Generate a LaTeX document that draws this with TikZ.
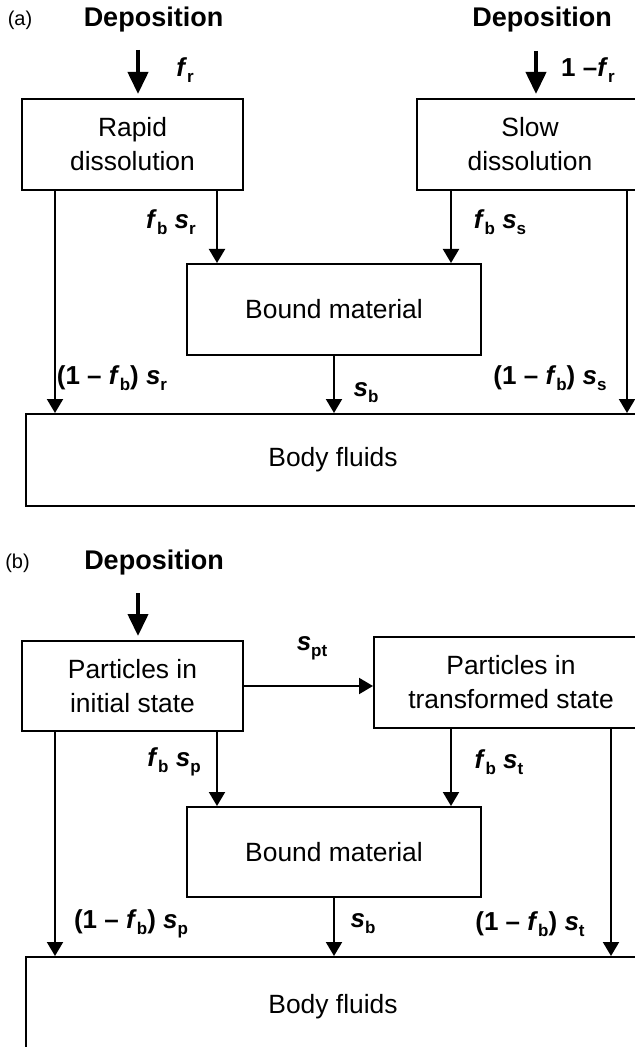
\documentclass[tikz,border=0pt]{standalone}
\usepackage{fontspec}
\setmainfont{Liberation Sans}
\usetikzlibrary{arrows.meta,positioning}
\newcommand{\subtxt}[1]{\raisebox{-0.45ex}{\fontsize{8.5}{8.5}\selectfont\bfseries\upshape #1}}
\newcommand{\fvar}[1]{\textit{f}\subtxt{#1}}
\newcommand{\svar}[1]{\textit{s}\subtxt{#1}}

\begin{document}
\begin{tikzpicture}[x=0.5pt,y=-0.5pt,
  box/.style={draw,line width=1pt,inner sep=0pt,align=center,font=\fontsize{13.2}{17}\selectfont},
  flow/.style={line width=1pt,-{Triangle[length=7pt,width=8pt]}},
  depo/.style={line width=2pt,-{Triangle[length=11pt,width=10pt]},shorten >=2pt},
  rate/.style={font=\fontsize{13}{15}\selectfont\bfseries,inner sep=0pt},
  head/.style={font=\fontsize{13.5}{16}\selectfont\bfseries,inner sep=0pt},
  tag/.style={font=\fontsize{10}{12}\selectfont,inner sep=0pt}]
\useasboundingbox (0,0) rectangle (635,1047);
% (a)
\node[tag] (tagA) at (20,20) {(a)};
\node[head] (depRA) at (153.5,20) {Deposition};
\node[head] (depSA) at (542,20) {Deposition};
\node[box,minimum width=110.5pt,minimum height=45.5pt] (rapid) at (132.5,144.5) {Rapid\\dissolution};
\node[box,minimum width=113pt,minimum height=45.5pt] (slow) at (530,144.5) {Slow\\dissolution};
\node[box,minimum width=147pt,minimum height=45.5pt] (boundA) at (334,309.5) {Bound material};
\node[box,minimum width=307pt,minimum height=46pt] (fluidA) at (333,460) {Body fluids};
\coordinate (inA) at (138,50);\coordinate (inS) at (536,51);
\coordinate (colA) at (55,0);\coordinate (colB) at (217,0);
\coordinate (colC) at (451,0);\coordinate (colD) at (627,0);
\draw[depo] (inA) -- (rapid.north -| inA);
\draw[depo] (inS) -- (slow.north -| inS);
\draw[flow] (rapid.south -| colA) -- (fluidA.north -| colA);
\draw[flow] (rapid.south -| colB) -- (boundA.north -| colB);
\draw[flow] (slow.south -| colC) -- (boundA.north -| colC);
\draw[flow] (slow.south -| colD) -- (fluidA.north -| colD);
\draw[flow] (boundA.south) -- (boundA.south |- fluidA.north);
\node[rate] (frA) at (185,70) {\fvar{r}};
\node[rate] (fsA) at (588,70) {1 –\fvar{r}};
\node[rate] (brA) at (171,222) {\fvar{b} \svar{r}};
\node[rate] (bsA) at (500,222) {\fvar{b} \svar{s}};
\node[rate] (urA) at (112,378) {(1 – \fvar{b}) \svar{r}};
\node[rate] (sbA) at (366,393) {\svar{b}};
\node[rate] (usA) at (550,378) {(1 – \fvar{b}) \svar{s}};
% (b)
\node[tag] (tagB) at (17.5,563) {(b)};
\node[head] (depB) at (154,563) {Deposition};
\node[box,minimum width=110.5pt,minimum height=45pt] (initial) at (132.5,686) {Particles in\\initial state};
\node[box,minimum width=137pt,minimum height=45.5pt] (transf) at (511,682.5) {Particles in\\transformed state};
\node[box,minimum width=147pt,minimum height=45pt] (boundB) at (334,852) {Bound material};
\node[box,minimum width=307pt,minimum height=50pt] (fluidB) at (333,1007) {Body fluids};
\coordinate (inB) at (138,593);
\coordinate (colE) at (611,0);
\draw[depo] (inB) -- (initial.north -| inB);
\draw[flow] (initial.east) -- (initial.east -| transf.west);
\draw[flow] (initial.south -| colA) -- (fluidB.north -| colA);
\draw[flow] (initial.south -| colB) -- (boundB.north -| colB);
\draw[flow] (transf.south -| colC) -- (boundB.north -| colC);
\draw[flow] (transf.south -| colE) -- (fluidB.north -| colE);
\draw[flow] (boundB.south) -- (boundB.south |- fluidB.north);
\node[rate] (sptB) at (312,648) {\svar{pt}};
\node[rate] (bpB) at (174,762) {\fvar{b} \svar{p}};
\node[rate] (btB) at (499,762) {\fvar{b} \svar{t}};
\node[rate] (upB) at (131,924) {(1 – \fvar{b}) \svar{p}};
\node[rate] (sbB) at (363,924) {\svar{b}};
\node[rate] (utB) at (530,924) {(1 – \fvar{b}) \svar{t}};
\end{tikzpicture}
\end{document}
